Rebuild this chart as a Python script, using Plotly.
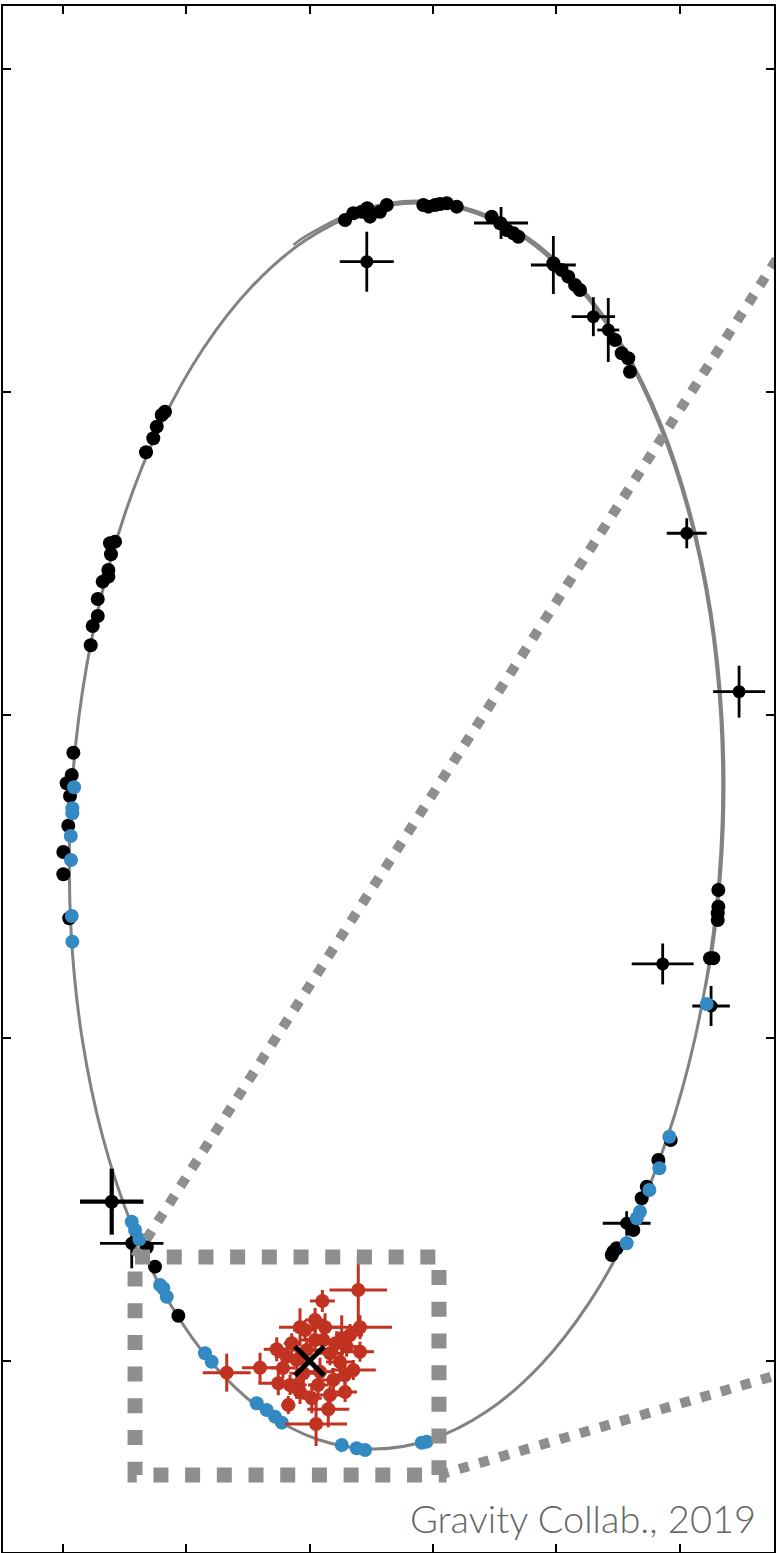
import plotly.graph_objects as go

# ---- Orbit model of S2, sampled along the track (RA offset, Dec offset in mas) ----
orbit_ra = [-33.43, -32.71, -31.22, -29.00, -26.11, -22.64, -18.69, -14.38, -9.85, -5.24,
            -0.68, 3.69, 7.73, 11.33, 14.36, 16.75, 18.42, 19.31, 19.41, 18.70,
            17.20, 14.98, 12.09, 8.62, 4.67, 0.36, -4.17, -8.78, -13.34, -17.71,
            -21.75, -25.35, -28.38, -30.77, -32.44, -33.33, -33.43]
orbit_dec = [82.82, 66.07, 49.83, 34.60, 20.82, 8.95, -0.70, -7.80, -12.15, -13.62,
             -12.15, -7.80, -0.70, 8.95, 20.82, 34.60, 49.83, 66.07, 82.82, 99.57,
             115.81, 131.04, 144.82, 156.69, 166.33, 173.44, 177.79, 179.26, 177.79, 173.44,
             166.33, 156.69, 144.82, 131.04, 115.81, 99.57, 82.82]

# second, slightly precessed pass over the upper and western part of the orbit
orbit2_ra = [1.30, 0.40, -4.15, -8.78, -13.38, -17.80, -21.87, -25.47, -28.50, -30.89,
             -32.56, -33.45, -33.55, -32.83, -32.09]
orbit2_dec = [172.76, 174.00, 178.20, 179.60, 178.10, 173.80, 166.60, 156.90, 145.00, 131.10,
              115.80, 99.57, 82.82, 66.07, 57.86]

# ---- Earlier astrometry (black) ----
black_ra = [-2.88, -3.55, -4.23, -4.68, -4.90, -5.71, -6.26, -9.22, -9.63, -10.17,
            -10.58, -11.12, -11.93, -14.76, -15.44, -15.98, -16.52, -16.92, -19.76, -20.44,
            -20.97, -21.52, -21.92, -24.76, -25.30, -25.83, -25.97,
            11.71, 11.98, 12.38, 12.66, 13.25, 15.76, 16.17, 16.09, 16.30, 16.30,
            16.76, 17.16, 17.16, 17.57, 17.73,
            19.14, 19.27, 19.68, 19.41, 19.55, 19.95, 19.95, 19.47,
            -33.13, -33.13, -33.08, -33.08, -32.46, -32.72, -29.27, -28.27, -27.33, -26.92,
            -26.24, -24.89, -24.62, -24.49,
            13.19, 12.52, 10.63]
black_dec = [176.63, 177.66, 177.91, 178.44, 177.14, 177.91, 178.95, 178.95, 178.69, 178.95,
             179.10, 179.21, 178.69, 177.14, 176.11, 175.08, 174.57, 174.04, 169.92, 168.89,
             167.85, 166.56, 165.79, 158.05, 155.99, 155.22, 153.14,
             146.95, 146.44, 144.63, 142.83, 140.67, 126.83, 126.58, 124.88, 122.45, 121.41,
             120.64, 117.96, 115.33, 113.78, 110.79,
             94.16, 90.71, 89.43, 87.46, 82.86, 78.79, 75.34, 68.53,
             72.91, 70.33, 69.30, 68.27, 62.34, 62.34, 34.21, 31.11, 26.98, 25.19,
             20.28, 17.45, 16.92, 16.41,
             17.60, 14.60, 7.01]

# black points with noticeable uncertainties
errb_ra = [-4.64, -15.52, -19.76, -23.00, -24.21, -30.57, -34.81, -28.62, -32.54, -25.70, 14.41]
errb_dec = [170.17, 176.16, 169.66, 161.66, 159.60, 128.13, 103.61, 61.46, 54.95, 21.32, 18.22]
errb_ex = [2.19, 2.19, 1.82, 1.76, 0.89, 1.62, 2.11, 2.51, 1.52, 1.94, 2.57]
errb_ey = [4.64, 2.48, 4.49, 3.02, 4.95, 2.32, 4.02, 3.17, 3.10, 1.86, 3.87]

# the least certain early epoch
wide_ra = [16.03]
wide_dec = [24.66]
wide_ex = [2.57]
wide_ey = [5.11]

# ---- GRAVITY astrometry (blue) ----
blue_ra = [19.08, 19.22, 19.22, 19.35, 19.33, 19.27, 19.22,
           -29.16, -28.35, -27.54, -26.78, -26.52, -25.70, -32.19,
           14.41, 14.14, 13.79, 12.11, 11.85, 11.57, 8.47, 7.93,
           4.28, 3.47, 2.80, 2.25, -2.61, -3.82, -4.50, -9.09, -9.50]
blue_dec = [88.81, 85.56, 84.78, 81.27, 77.55, 68.89, 64.91,
            34.72, 29.83, 26.47, 23.11, 22.09, 18.22, 55.26,
            21.56, 20.28, 18.84, 11.76, 11.25, 9.95, 1.19, -0.11,
            -6.55, -7.59, -8.62, -9.55, -13.00, -13.51, -13.78, -12.65, -12.49]

# ---- Sgr A* flare positions (red) ----
red_ra = [-3.95, -1.04, -0.45, 0.77, -4.09, -1.26, -2.61, -0.45, 2.66, -4.09,
          4.01, 6.71, -3.55, 2.53, 1.72, -0.18, -1.52, -0.53, -1.93, 0.50,
          -0.85, 1.04, 1.85, -1.66, -2.20, -3.01, 0.23, -1.12, 1.58, -2.88,
          0.77, 1.44, 1.04, -2.47, -2.88, -1.66, 2.15, -0.69, -3.28, 0.36]
red_dec = [10.99, 9.29, 6.35, 5.22, 5.22, 5.22, 3.51, 3.25, 1.81, 1.44,
           -1.04, -1.81, -1.39, -3.45, -6.81, -5.77, -7.48, -9.75, -2.94, -1.90,
           -1.66, 0.15, 0.67, 1.19, 2.74, 2.21, 1.70, 3.25, -3.72, -4.80,
           -4.80, 2.74, -3.72, -0.15, -2.17, -5.26, -1.08, -3.72, 4.02, 4.80]
red_ex = [2.33, 1.01, 0.81, 1.70, 2.59, 1.22, 0.81, 1.22, 1.05, 1.13,
          1.46, 1.94, 1.82, 1.62, 0.57, 0.81, 1.70, 2.51, 1.22, 1.13,
          0.97, 1.30, 0.97, 1.13, 0.81, 0.97, 1.13, 0.81, 0.97, 0.97,
          0.81, 0.65, 0.81, 1.13, 0.97, 0.89, 0.97, 0.81, 1.05, 0.97]
red_ey = [5.11, 1.70, 1.86, 2.94, 1.86, 2.17, 3.56, 1.86, 1.86, 1.55,
          2.32, 2.94, 1.55, 1.86, 1.39, 2.32, 2.79, 3.41, 1.86, 2.48,
          2.17, 2.17, 1.55, 1.86, 1.86, 1.55, 1.86, 2.17, 1.55, 1.55,
          1.86, 1.55, 2.17, 1.55, 1.70, 1.86, 1.55, 2.01, 1.70, 1.55]

# ---- Sgr A* position ----
sgra_ra = [0.0]
sgra_dec = [0.0]

# ---- Zoom region and connectors to the inset ----
box_ra = [14.14, -10.49, -10.49, 14.14, 14.14]
box_dec = [16.10, 16.10, -17.65, -17.65, 16.10]
conn1_ra = [14.14, -38.94]
conn1_dec = [16.10, 173.76]
conn2_ra = [-10.49, -38.94]
conn2_dec = [-17.65, -1.58]

# axis extent and ticks (mas)
ra_range = [24.84, -37.64]
dec_range = [-29.57, 209.75]
ra_ticks = [20, 10, 0, -10, -20, -30]
dec_ticks = [0, 50, 100, 150, 200]

ORBIT_GREY = "#828282"
DOT_GREY = "#8e8e8e"
BLUE = "#338ac3"
RED = "#c13220"
DOT_SIZE = 14

fig = go.Figure()

fig.add_trace(go.Scatter(x=orbit_ra, y=orbit_dec, mode="lines",
                         line=dict(color=ORBIT_GREY, width=3, shape="spline"),
                         hoverinfo="skip"))
fig.add_trace(go.Scatter(x=orbit2_ra, y=orbit2_dec, mode="lines",
                         line=dict(color=ORBIT_GREY, width=2.5, shape="spline"),
                         hoverinfo="skip"))

fig.add_trace(go.Scatter(x=black_ra, y=black_dec, mode="markers",
                         marker=dict(color="black", size=DOT_SIZE, line=dict(width=0))))
fig.add_trace(go.Scatter(x=errb_ra, y=errb_dec, mode="markers",
                         marker=dict(color="black", size=13, line=dict(width=0)),
                         error_x=dict(type="data", array=errb_ex, color="black", thickness=2.8, width=0),
                         error_y=dict(type="data", array=errb_ey, color="black", thickness=2.8, width=0)))
fig.add_trace(go.Scatter(x=wide_ra, y=wide_dec, mode="markers",
                         marker=dict(color="black", size=DOT_SIZE, line=dict(width=0)),
                         error_x=dict(type="data", array=wide_ex, color="black", thickness=4.2, width=0),
                         error_y=dict(type="data", array=wide_ey, color="black", thickness=4.2, width=0)))

fig.add_trace(go.Scatter(x=blue_ra, y=blue_dec, mode="markers",
                         marker=dict(color=BLUE, size=DOT_SIZE, line=dict(width=0))))

fig.add_trace(go.Scatter(x=red_ra, y=red_dec, mode="markers",
                         marker=dict(color=RED, size=DOT_SIZE, line=dict(width=0)),
                         error_x=dict(type="data", array=red_ex, color=RED, thickness=3, width=0),
                         error_y=dict(type="data", array=red_ey, color=RED, thickness=3, width=0)))

fig.add_trace(go.Scatter(x=sgra_ra, y=sgra_dec, mode="markers",
                         marker=dict(symbol="x-thin", size=29, color="black",
                                     line=dict(color="black", width=5))))

fig.add_trace(go.Scatter(x=box_ra, y=box_dec, mode="lines",
                         line=dict(color=DOT_GREY, width=15, dash="15px,16.7px"),
                         hoverinfo="skip"))
fig.add_trace(go.Scatter(x=conn1_ra, y=conn1_dec, mode="lines",
                         line=dict(color=DOT_GREY, width=10, dash="10px,11px"),
                         hoverinfo="skip"))
fig.add_trace(go.Scatter(x=conn2_ra, y=conn2_dec, mode="lines",
                         line=dict(color=DOT_GREY, width=10, dash="10px,11px"),
                         hoverinfo="skip"))

axis_common = dict(showgrid=False, zeroline=False, showline=True, linecolor="black",
                   linewidth=2, mirror="ticks", ticks="inside", ticklen=8, tickwidth=2,
                   tickcolor="black", showticklabels=False)

fig.update_xaxes(range=ra_range, tickvals=ra_ticks, **axis_common)
fig.update_yaxes(range=dec_range, tickvals=dec_ticks, **axis_common)

fig.add_annotation(text="Gravity Collab., 2019", xref="paper", yref="paper",
                   x=0.979, y=0.022, xanchor="right", yanchor="middle", showarrow=False,
                   font=dict(family="Lato", size=38, color="#666666", weight=300))

fig.update_layout(width=778, height=1553, margin=dict(l=3, r=4, t=6, b=1),
                  paper_bgcolor="white", plot_bgcolor="white", showlegend=False)

fig.write_html("out.html")
